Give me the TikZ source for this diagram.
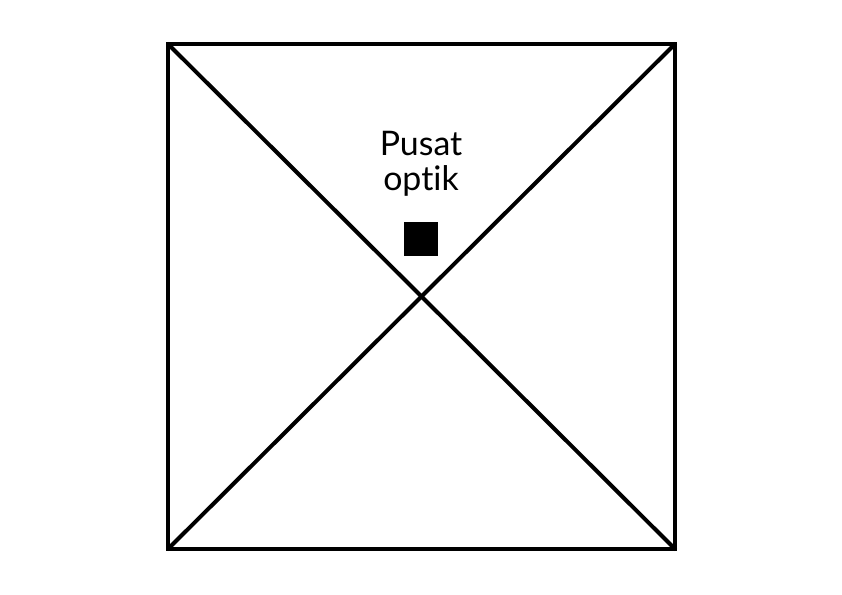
\documentclass[tikz,border=0pt]{standalone}
\usepackage{fontspec}
\setmainfont[Ligatures=NoCommon]{Lato}
\usetikzlibrary{positioning}
\tikzset{
    frame/.style={rectangle, draw, line width=4bp, minimum width=507bp, minimum height=505bp, inner sep=0pt},
    centre/.style={rectangle, fill=black, minimum size=34bp, inner sep=0pt},
    caption/.style={align=center, font=\fontsize{34}{35}\selectfont},
    diagonal/.style={line width=4bp, shorten <=2bp, shorten >=2bp}
}
\begin{document}
\begin{tikzpicture}[x=1bp, y=1bp]
    \useasboundingbox[fill=white] (0,0) rectangle (842,595);
    \node[frame] (box) at (421.5,298.5) {};
    \node[centre] (pusat) at (421,356) {};
    \node[caption] (label) [above=22bp of pusat] {Pusat\\optik};

    \draw[diagonal] (box.north west) -- (box.south east);
    \draw[diagonal] (box.north east) -- (box.south west);
\end{tikzpicture}
\end{document}
